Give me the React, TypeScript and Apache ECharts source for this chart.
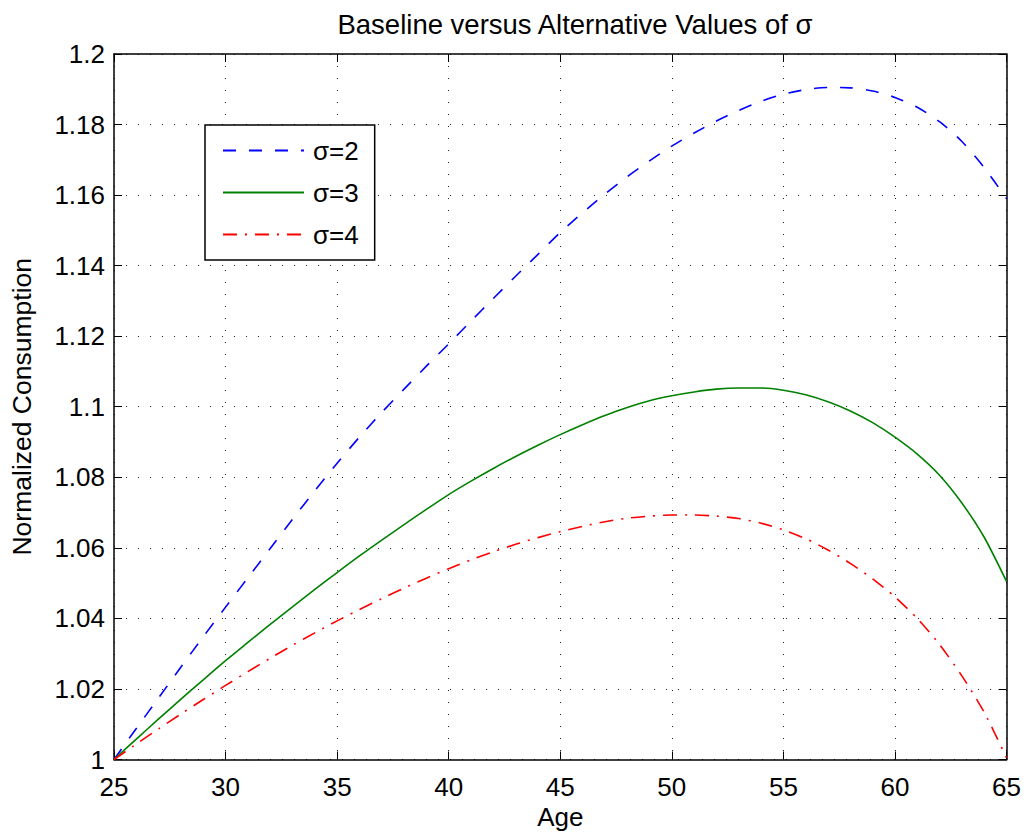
import React, { useEffect, useRef } from "react";
import * as echarts from "echarts";

const ages: number[] = [
  25, 26, 27, 28, 29, 30, 31, 32, 33, 34, 35, 36, 37, 38, 39, 40, 41, 42, 43, 44, 45,
  46, 47, 48, 49, 50, 51, 52, 53, 54, 55, 56, 57, 58, 59, 60, 61, 62, 63, 64, 65,
];

const sigma2: number[] = [
  1.0, 1.0088, 1.0175, 1.0262, 1.0348, 1.0432, 1.0515, 1.0598, 1.0681, 1.0762, 1.084,
  1.0914, 1.0984, 1.105, 1.1115, 1.1178, 1.1243, 1.1307, 1.137, 1.1432, 1.1494,
  1.155, 1.1603, 1.1652, 1.1697, 1.1739, 1.1776, 1.181, 1.184, 1.1866, 1.1886,
  1.1899, 1.1905, 1.1904, 1.1895, 1.1877, 1.1849, 1.1808, 1.1752, 1.1678, 1.159,
];

const sigma3: number[] = [
  1.0, 1.0058, 1.0115, 1.0171, 1.0226, 1.028, 1.0332, 1.0383, 1.0433, 1.0482, 1.053,
  1.0577, 1.0622, 1.0666, 1.0709, 1.0751, 1.0789, 1.0825, 1.0859, 1.0891, 1.0921,
  1.0949, 1.0975, 1.0998, 1.1017, 1.1031, 1.1042, 1.105, 1.1053, 1.1053, 1.1047,
  1.1034, 1.1014, 1.0988, 1.0955, 1.0914, 1.0866, 1.0806, 1.0727, 1.063, 1.0505,
];

const sigma4: number[] = [
  1.0, 1.0044, 1.0087, 1.0129, 1.017, 1.021, 1.0249, 1.0287, 1.0324, 1.0359, 1.0393,
  1.0425, 1.0456, 1.0486, 1.0514, 1.0541, 1.0566, 1.0589, 1.061, 1.0629, 1.0646,
  1.0661, 1.0674, 1.0684, 1.069, 1.0693, 1.0693, 1.069, 1.0683, 1.067, 1.0651,
  1.0626, 1.0594, 1.0556, 1.0512, 1.0461, 1.04, 1.0326, 1.0237, 1.0134, 1.0005,
];

const seriesNames: string[] = ["σ=2", "σ=3", "σ=4"];
const titleText = "Baseline versus Alternative Values of σ";
const xName = "Age";
const yName = "Normalized Consumption";

const FONT = "'Liberation Sans', Arial, Helvetica, sans-serif";

export default function App() {
  const ref = useRef<HTMLDivElement>(null);

  useEffect(() => {
    if (!ref.current) return;
    const chart = echarts.init(ref.current, undefined, { renderer: "svg" });
    const pairs = (vals: number[]) => ages.map((a, i) => [a, vals[i]]);

    const tickStyle = { show: true, inside: true, length: 8, lineStyle: { color: "#000", width: 1 } };
    const axisLine = { show: true, lineStyle: { color: "#000", width: 1.5 } };
    const gridLine = { show: true, lineStyle: { color: "#222", width: 1, type: [1, 11] as number[] } };

    chart.setOption({
      animation: false,
      backgroundColor: "#fff",
      textStyle: { fontFamily: FONT },
      title: {
        text: titleText,
        left: 570,
        textAlign: "center",
        top: 5,
        textStyle: { fontFamily: FONT, fontSize: 27.5, fontWeight: "normal", color: "#000" },
      },
      grid: { left: 112.5, right: 19.5, top: 54, bottom: 78.5, containLabel: false },
      legend: {
        show: true,
        orient: "vertical",
        left: 205,
        top: 125,
        padding: [12.5, 16, 12.5, 17],
        itemWidth: 81,
        itemHeight: 14,
        itemGap: 16,
        backgroundColor: "#fff",
        borderColor: "#000",
        borderWidth: 1.5,
        borderRadius: 0,
        data: seriesNames,
        itemStyle: { opacity: 0, color: "transparent", borderWidth: 0 },
        textStyle: { fontFamily: FONT, fontSize: 26, color: "#000", lineHeight: 25, padding: [0, 0, 0, 4] },
      },
      xAxis: [
        {
          type: "value",
          min: 25,
          max: 65,
          interval: 5,
          position: "bottom",
          name: xName,
          nameLocation: "middle",
          nameGap: 41,
          nameTextStyle: { fontFamily: FONT, fontSize: 26, color: "#000" },
          axisLine,
          axisTick: tickStyle,
          axisLabel: { fontFamily: FONT, fontSize: 26, color: "#000", margin: 14 },
          splitLine: gridLine,
        },
        {
          type: "value",
          min: 25,
          max: 65,
          interval: 5,
          position: "top",
          axisLine,
          axisTick: tickStyle,
          axisLabel: { show: false },
          splitLine: { show: false },
        },
      ],
      yAxis: [
        {
          type: "value",
          min: 1,
          max: 1.2,
          interval: 0.02,
          position: "left",
          name: yName,
          nameLocation: "middle",
          nameGap: 79,
          nameRotate: 90,
          nameTextStyle: { fontFamily: FONT, fontSize: 26.5, color: "#000" },
          axisLine,
          axisTick: tickStyle,
          axisLabel: { fontFamily: FONT, fontSize: 26, color: "#000", margin: 9 },
          splitLine: gridLine,
        },
        {
          type: "value",
          min: 1,
          max: 1.2,
          interval: 0.02,
          position: "right",
          axisLine,
          axisTick: tickStyle,
          axisLabel: { show: false },
          splitLine: { show: false },
        },
      ],
      series: [
        {
          name: seriesNames[0],
          type: "line",
          data: pairs(sigma2),
          symbol: "none",
          smooth: 0.25,
          lineStyle: { color: "#0000ff", width: 1.6, type: [13, 13] },
          itemStyle: { color: "#0000ff" },
        },
        {
          name: seriesNames[1],
          type: "line",
          data: pairs(sigma3),
          symbol: "none",
          smooth: 0.25,
          lineStyle: { color: "#008000", width: 1.6, type: "solid" },
          itemStyle: { color: "#008000" },
        },
        {
          name: seriesNames[2],
          type: "line",
          data: pairs(sigma4),
          symbol: "none",
          smooth: 0.25,
          lineStyle: { color: "#ff0000", width: 1.6, type: [14, 8, 2, 8] },
          itemStyle: { color: "#ff0000" },
        },
      ],
    });

    return () => chart.dispose();
  }, []);

  return <div ref={ref} style={{ width: 1026, height: 838, position: "absolute", left: 0, top: 0 }} />;
}
